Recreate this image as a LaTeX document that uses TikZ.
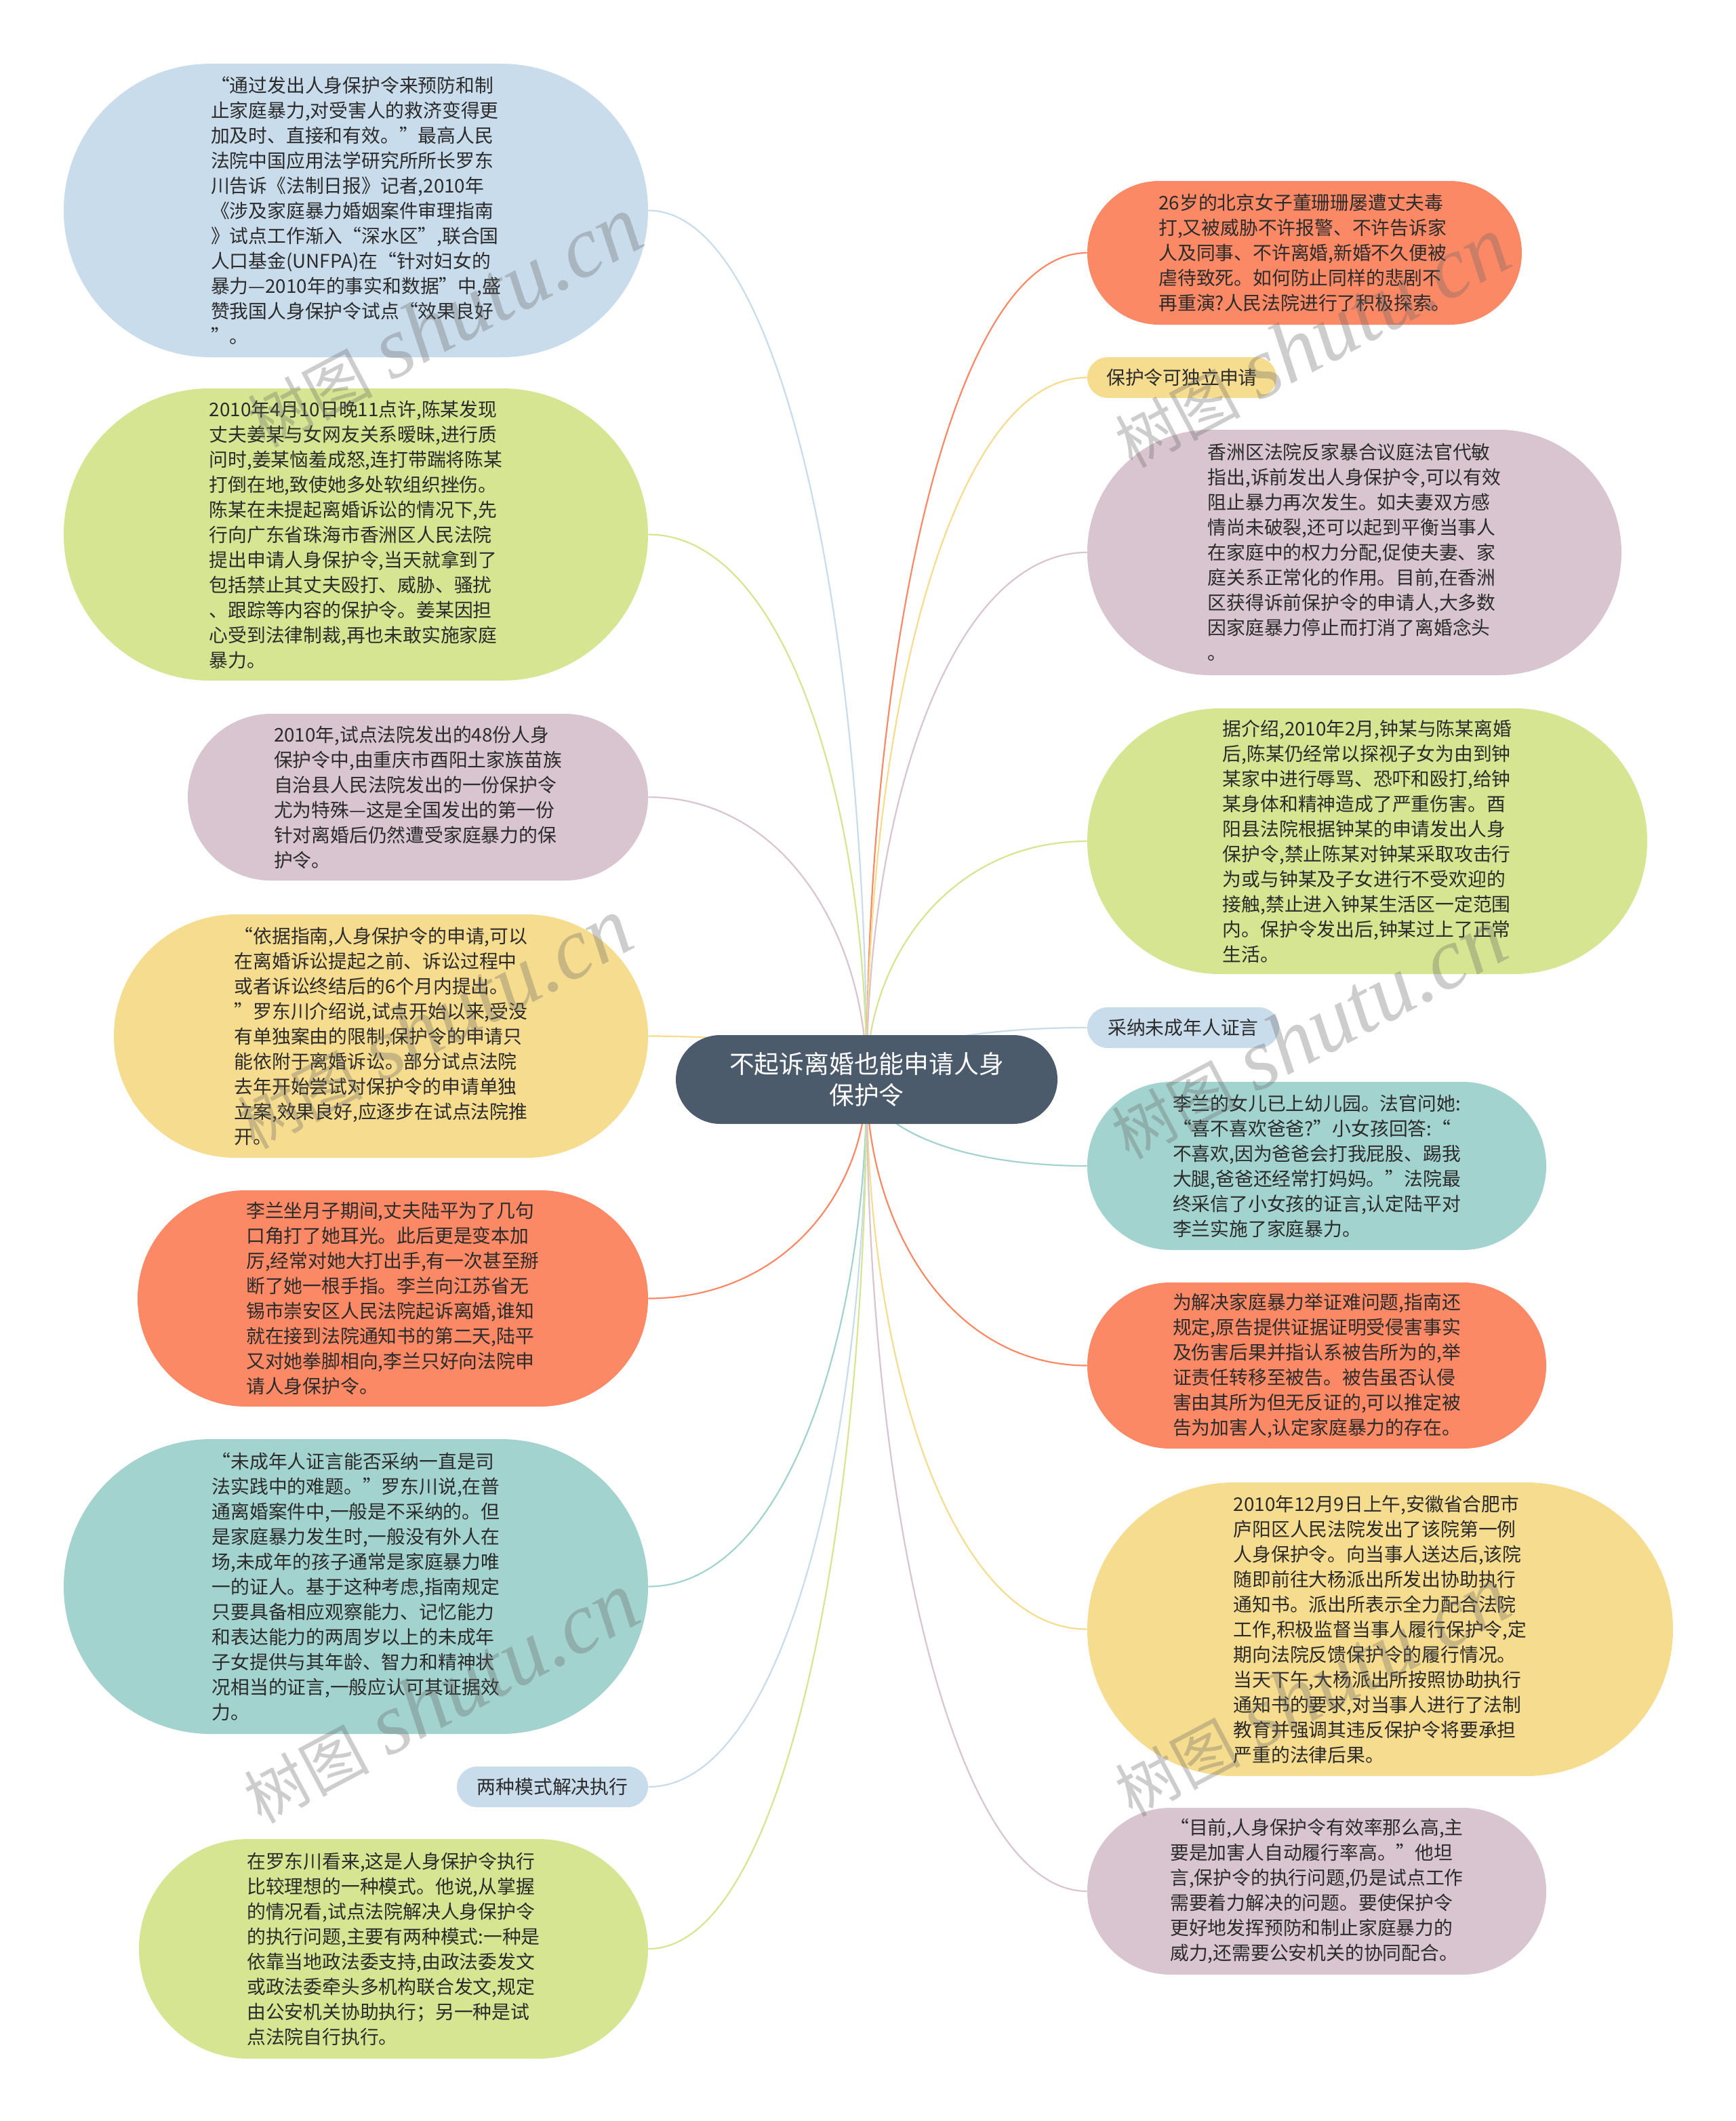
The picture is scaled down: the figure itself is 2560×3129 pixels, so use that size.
\documentclass[tikz,border=0pt]{standalone}
\usepackage{fontspec}
\setmainfont{Noto Sans CJK SC}
\newfontfamily\wmserif{Liberation Serif}
\usetikzlibrary{shapes.misc,calc}
\pgfdeclarelayer{bg}
\pgfsetlayers{bg,main}
\definecolor{cBlue}{HTML}{C9DCEC}
\definecolor{cGreen}{HTML}{D6E592}
\definecolor{cPink}{HTML}{D8C5CF}
\definecolor{cYellow}{HTML}{F6DC8E}
\definecolor{cOrange}{HTML}{FC8966}
\definecolor{cTeal}{HTML}{A3D3CF}
\definecolor{cCenter}{HTML}{4B5B6B}
\definecolor{cText}{HTML}{2B2B2B}
\tikzset{
  blk/.style={rounded rectangle, inner sep=0pt, align=left, text=cText,
    font=\fontsize{13.9bp}{18.5bp}\selectfont},
  conn/.style={line width=1.1bp},
  wm/.style={text=black!60, text opacity=0.32, inner sep=0pt,
    font=\fontsize{46bp}{46bp}\selectfont},
}
\begin{document}
\begin{tikzpicture}[x=0.5bp,y=-0.5bp]
\useasboundingbox (0,0) rectangle (2560,3129);
\begin{pgfonlayer}{bg}
\fill[white] (0,0) rectangle (2560,3129);
\end{pgfonlayer}

% centre
\node[rounded rectangle, inner sep=0pt, fill=cCenter, text=white, align=center,
  minimum width=281.5bp, minimum height=65.5bp,
  font=\fontsize{18.4bp}{23bp}\selectfont] (c) at (1278.5,1592.5)
  {不起诉离婚也能申请人身\\保护令};

% left column
\node[blk, fill=cBlue, minimum width=431bp, minimum height=216.5bp] (l1) at (525,310.5)
{“通过发出人身保护令来预防和制\\
止家庭暴力,对受害人的救济变得更\\
加及时、直接和有效。”最高人民\\
法院中国应用法学研究所所长罗东\\
川告诉《法制日报》记者,2010年\\
《涉及家庭暴力婚姻案件审理指南\\
》试点工作渐入“深水区”,联合国\\
人口基金(UNFPA)在“针对妇女的\\
暴力—2010年的事实和数据”中,盛\\
赞我国人身保护令试点“效果良好\\
”。};

\node[blk, fill=cGreen, minimum width=431bp, minimum height=215.5bp] (l2) at (525,788.5)
{2010年4月10日晚11点许,陈某发现\\
丈夫姜某与女网友关系暧昧,进行质\\
问时,姜某恼羞成怒,连打带踹将陈某\\
打倒在地,致使她多处软组织挫伤。\\
陈某在未提起离婚诉讼的情况下,先\\
行向广东省珠海市香洲区人民法院\\
提出申请人身保护令,当天就拿到了\\
包括禁止其丈夫殴打、威胁、骚扰\\
、跟踪等内容的保护令。姜某因担\\
心受到法律制裁,再也未敢实施家庭\\
暴力。};

\node[blk, fill=cPink, minimum width=339.5bp, minimum height=123bp] (l3) at (616.5,1176)
{2010年,试点法院发出的48份人身\\
保护令中,由重庆市酉阳土家族苗族\\
自治县人民法院发出的一份保护令\\
尤为特殊—这是全国发出的第一份\\
针对离婚后仍然遭受家庭暴力的保\\
护令。};

\node[blk, fill=cYellow, minimum width=394bp, minimum height=179.5bp] (l4) at (562,1528.5)
{“依据指南,人身保护令的申请,可以\\
在离婚诉讼提起之前、诉讼过程中\\
或者诉讼终结后的6个月内提出。\\
”罗东川介绍说,试点开始以来,受没\\
有单独案由的限制,保护令的申请只\\
能依附于离婚诉讼。部分试点法院\\
去年开始尝试对保护令的申请单独\\
立案,效果良好,应逐步在试点法院推\\
开。};

\node[blk, fill=cOrange, minimum width=376.5bp, minimum height=159.5bp] (l5) at (579.5,1915.5)
{李兰坐月子期间,丈夫陆平为了几句\\
口角打了她耳光。此后更是变本加\\
厉,经常对她大打出手,有一次甚至掰\\
断了她一根手指。李兰向江苏省无\\
锡市崇安区人民法院起诉离婚,谁知\\
就在接到法院通知书的第二天,陆平\\
又对她拳脚相向,李兰只好向法院申\\
请人身保护令。};

\node[blk, fill=cTeal, minimum width=431bp, minimum height=217.5bp] (l6) at (525,2340.5)
{“未成年人证言能否采纳一直是司\\
法实践中的难题。”罗东川说,在普\\
通离婚案件中,一般是不采纳的。但\\
是家庭暴力发生时,一般没有外人在\\
场,未成年的孩子通常是家庭暴力唯\\
一的证人。基于这种考虑,指南规定\\
只要具备相应观察能力、记忆能力\\
和表达能力的两周岁以上的未成年\\
子女提供与其年龄、智力和精神状\\
况相当的证言,一般应认可其证据效\\
力。};

\node[blk, fill=cBlue, minimum width=141bp, minimum height=30bp] (l7) at (815,2636)
{两种模式解决执行};

\node[blk, fill=cGreen, minimum width=375.5bp, minimum height=162bp] (l8) at (580.5,2875)
{在罗东川看来,这是人身保护令执行\\
比较理想的一种模式。他说,从掌握\\
的情况看,试点法院解决人身保护令\\
的执行问题,主要有两种模式:一种是\\
依靠当地政法委支持,由政法委发文\\
或政法委牵头多机构联合发文,规定\\
由公安机关协助执行；另一种是试\\
点法院自行执行。};

% right column
\node[blk, fill=cOrange, minimum width=320.5bp, minimum height=106bp] (r1) at (1924.5,373)
{26岁的北京女子董珊珊屡遭丈夫毒\\
打,又被威胁不许报警、不许告诉家\\
人及同事、不许离婚,新婚不久便被\\
虐待致死。如何防止同样的悲剧不\\
再重演?人民法院进行了积极探索。};

\node[blk, fill=cYellow, minimum width=139.5bp, minimum height=30bp] (r2) at (1743.5,557)
{保护令可独立申请};

\node[blk, fill=cPink, minimum width=394bp, minimum height=181bp] (r3) at (1998,815)
{香洲区法院反家暴合议庭法官代敏\\
指出,诉前发出人身保护令,可以有效\\
阻止暴力再次发生。如夫妻双方感\\
情尚未破裂,还可以起到平衡当事人\\
在家庭中的权力分配,促使夫妻、家\\
庭关系正常化的作用。目前,在香洲\\
区获得诉前保护令的申请人,大多数\\
因家庭暴力停止而打消了离婚念头\\
。};

\node[blk, fill=cGreen, minimum width=413bp, minimum height=196bp] (r4) at (2017,1241)
{据介绍,2010年2月,钟某与陈某离婚\\
后,陈某仍经常以探视子女为由到钟\\
某家中进行辱骂、恐吓和殴打,给钟\\
某身体和精神造成了严重伤害。酉\\
阳县法院根据钟某的申请发出人身\\
保护令,禁止陈某对钟某采取攻击行\\
为或与钟某及子女进行不受欢迎的\\
接触,禁止进入钟某生活区一定范围\\
内。保护令发出后,钟某过上了正常\\
生活。};

\node[blk, fill=cBlue, minimum width=141.5bp, minimum height=30bp] (r5) at (1745.5,1516)
{采纳未成年人证言};

\node[blk, fill=cTeal, minimum width=338.5bp, minimum height=124bp] (r6) at (1942.5,1720)
{李兰的女儿已上幼儿园。法官问她:\\
“喜不喜欢爸爸?”小女孩回答:“\\
不喜欢,因为爸爸会打我屁股、踢我\\
大腿,爸爸还经常打妈妈。”法院最\\
终采信了小女孩的证言,认定陆平对\\
李兰实施了家庭暴力。};

\node[blk, fill=cOrange, minimum width=338.5bp, minimum height=122.5bp] (r7) at (1942.5,2014.5)
{为解决家庭暴力举证难问题,指南还\\
规定,原告提供证据证明受侵害事实\\
及伤害后果并指认系被告所为的,举\\
证责任转移至被告。被告虽否认侵\\
害由其所为但无反证的,可以推定被\\
告为加害人,认定家庭暴力的存在。};

\node[blk, fill=cYellow, minimum width=432bp, minimum height=216.5bp] (r8) at (2036,2403.5)
{2010年12月9日上午,安徽省合肥市\\
庐阳区人民法院发出了该院第一例\\
人身保护令。向当事人送达后,该院\\
随即前往大杨派出所发出协助执行\\
通知书。派出所表示全力配合法院\\
工作,积极监督当事人履行保护令,定\\
期向法院反馈保护令的履行情况。\\
当天下午,大杨派出所按照协助执行\\
通知书的要求,对当事人进行了法制\\
教育并强调其违反保护令将要承担\\
严重的法律后果。};

\node[blk, fill=cPink, minimum width=338.5bp, minimum height=123bp] (r9) at (1942.5,2790)
{“目前,人身保护令有效率那么高,主\\
要是加害人自动履行率高。”他坦\\
言,保护令的执行问题,仍是试点工作\\
需要着力解决的问题。要使保护令\\
更好地发挥预防和制止家庭暴力的\\
威力,还需要公安机关的协同配合。};

% connectors
\begin{pgfonlayer}{bg}
\foreach \n/\col in {l1/cBlue,l2/cGreen,l3/cPink,l4/cYellow,l5/cOrange,l6/cTeal,l7/cBlue,l8/cGreen}{
  \draw[conn, draw=\col] (c.center) .. controls ($(c.center)!0.5!(c.center|-\n.east)$) and ($(c.center|-\n.east)!0.37!(\n.east)$) .. (\n.east);
}
\foreach \n/\col in {r1/cOrange,r2/cYellow,r3/cPink,r4/cGreen,r5/cBlue,r6/cTeal,r7/cOrange,r8/cYellow,r9/cPink}{
  \draw[conn, draw=\col] (c.center) .. controls ($(c.center)!0.5!(c.center|-\n.west)$) and ($(c.center|-\n.west)!0.37!(\n.west)$) .. (\n.west);
}
\end{pgfonlayer}

% watermarks
\foreach \i/\x/\y in {w1/655/475,w2/1935/505,w3/640/1510,w4/1930/1525,w5/650/2505,w6/1935/2495}{
  \node[wm, rotate=28] (\i) at (\x,\y) {树图\hspace{0.3em}{\wmserif\itshape\fontsize{64bp}{64bp}\selectfont shutu.cn}};
}
\end{tikzpicture}
\end{document}
